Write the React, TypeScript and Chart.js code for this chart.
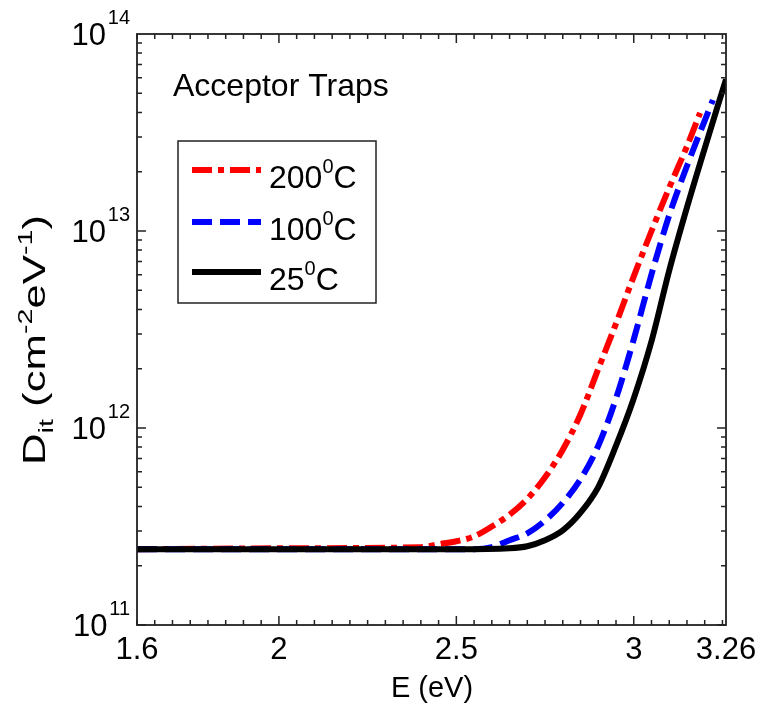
import React, { useEffect, useRef } from "react";
import { Chart, registerables } from "chart.js";

Chart.register(...registerables);

// ---- Data (log10 of Dit) ----
const energy25 = [1.6, 2.5, 2.65, 2.7, 2.75, 2.8, 2.85, 2.9, 2.95, 3.0, 3.05, 3.1, 3.15, 3.2, 3.26];
const logDit25 = [11.385, 11.385, 11.39, 11.4, 11.43, 11.48, 11.57, 11.7, 11.91, 12.15, 12.44, 12.8, 13.12, 13.42, 13.77];

const energy100 = [1.6, 2.55, 2.6, 2.65, 2.7, 2.75, 2.8, 2.85, 2.9, 2.95, 3.0, 3.05, 3.1, 3.15, 3.223];
const logDit100 = [11.385, 11.385, 11.395, 11.43, 11.465, 11.53, 11.62, 11.74, 11.91, 12.15, 12.45, 12.78, 13.08, 13.33, 13.665];

const energy200 = [1.6, 2.1, 2.4, 2.45, 2.5, 2.55, 2.6, 2.65, 2.7, 2.75, 2.8, 2.85, 2.9, 2.95, 3.0, 3.05, 3.1, 3.15, 3.187];
const logDit200 = [11.385, 11.39, 11.395, 11.41, 11.425, 11.45, 11.5, 11.56, 11.64, 11.75, 11.89, 12.07, 12.3, 12.53, 12.77, 13.0, 13.22, 13.43, 13.6];

const xTickLabels = ["1.6", "2", "2.5", "3", "3.26"];
const xTickValues = [1.6, 2, 2.5, 3, 3.26];
const yDecades = [11, 12, 13, 14];
const seriesLabels = ["200", "100", "25"];
const titleText = "Acceptor Traps";

const FONT = '"Liberation Sans", Arial, Helvetica, sans-serif';

type Part = { t: string; size: number; dy?: number };

function richWidth(ctx: CanvasRenderingContext2D, parts: Part[]) {
  let w = 0;
  for (const p of parts) {
    ctx.font = `${p.size}px ${FONT}`;
    w += ctx.measureText(p.t).width;
  }
  return w;
}

function drawRich(ctx: CanvasRenderingContext2D, parts: Part[], x: number, y: number, align: "left" | "center" | "right") {
  const w = richWidth(ctx, parts);
  let cx = align === "left" ? x : align === "center" ? x - w / 2 : x - w;
  ctx.textAlign = "left";
  ctx.textBaseline = "alphabetic";
  for (const p of parts) {
    ctx.font = `${p.size}px ${FONT}`;
    ctx.fillText(p.t, cx, y + (p.dy || 0));
    cx += ctx.measureText(p.t).width;
  }
}

const toPoints = (xs: number[], ls: number[]) => xs.map((x, i) => ({ x, y: Math.pow(10, ls[i]) }));

const decorPlugin = {
  id: "decor",
  afterDraw(chart: any) {
    const ctx: CanvasRenderingContext2D = chart.ctx;
    const { left, right, top, bottom } = chart.chartArea;
    const xs = chart.scales.x;
    const ys = chart.scales.y;
    ctx.save();
    ctx.fillStyle = "#000";
    ctx.strokeStyle = "#222";
    ctx.lineWidth = 1.8;
    // frame
    ctx.strokeRect(left, top, right - left, bottom - top);
    ctx.lineWidth = 1.5;
    // x ticks (inward, bottom and top)
    ctx.beginPath();
    for (let i = 0; i <= 33; i++) {
      const v = 1.6 + i * 0.05;
      if (v > 3.2601) break;
      const px = xs.getPixelForValue(v);
      const major = Math.abs(v * 2 - Math.round(v * 2)) < 1e-6;
      const len = major ? 9 : 5;
      ctx.moveTo(px, bottom);
      ctx.lineTo(px, bottom - len);
      ctx.moveTo(px, top);
      ctx.lineTo(px, top + len);
    }
    // y ticks (log)
    for (let e = 11; e < 14; e++) {
      for (let m = 1; m <= 9; m++) {
        const py = ys.getPixelForValue(m * Math.pow(10, e));
        const len = m === 1 ? 9 : 5;
        ctx.moveTo(left, py);
        ctx.lineTo(left + len, py);
        ctx.moveTo(right, py);
        ctx.lineTo(right - len, py);
      }
    }
    ctx.stroke();

    // x tick labels
    ctx.fillStyle = "#000";
    xTickValues.forEach((v, i) => {
      const px = xs.getPixelForValue(v);
      drawRich(ctx, [{ t: xTickLabels[i], size: 31 }], px, 659, "center");
    });
    // y tick labels
    yDecades.forEach((e) => {
      const py = ys.getPixelForValue(Math.pow(10, e));
      drawRich(ctx, [{ t: "10", size: 31, dy: 11 }, { t: " ", size: 6 }, { t: String(e), size: 20, dy: -10 }], 130, py, "right");
    });
    // x title
    drawRich(ctx, [{ t: "E (eV)", size: 29 }], 432, 697, "center");
    // y title
    const yTitle: Part[] = [
      { t: "D", size: 32 },
      { t: "it", size: 21, dy: 8 },
      { t: " (cm", size: 32 },
      { t: "-2", size: 21, dy: -13 },
      { t: "eV", size: 32 },
      { t: "-1", size: 21, dy: -13 },
      { t: ")", size: 32 },
    ];
    const tw = richWidth(ctx, yTitle);
    ctx.save();
    ctx.translate(45, 340);
    ctx.rotate(-Math.PI / 2);
    ctx.scale(250 / tw, 1);
    drawRich(ctx, yTitle, 0, 0, "center");
    ctx.restore();

    // annotation
    drawRich(ctx, [{ t: titleText, size: 32 }], 173, 96, "left");

    // legend box
    ctx.lineWidth = 1.5;
    ctx.strokeStyle = "#222";
    ctx.fillStyle = "#fff";
    ctx.fillRect(178, 141, 198, 162);
    ctx.strokeRect(178, 141, 198, 162);
    const ds = chart.data.datasets;
    const rows = [170, 222, 272];
    rows.forEach((ry, i) => {
      const d = ds[i];
      ctx.save();
      ctx.strokeStyle = d.borderColor;
      ctx.lineWidth = 6;
      ctx.setLineDash(d.borderDash || []);
      ctx.beginPath();
      ctx.moveTo(192, ry);
      ctx.lineTo(261, ry);
      ctx.stroke();
      ctx.restore();
      ctx.fillStyle = "#000";
      drawRich(
        ctx,
        [
          { t: seriesLabels[i], size: 32, dy: 18 },
          { t: "0", size: 20, dy: 3 },
          { t: "C", size: 32, dy: 18 },
        ],
        269,
        ry,
        "left"
      );
    });
    ctx.restore();
  },
};

export default function App() {
  const ref = useRef<HTMLCanvasElement | null>(null);
  useEffect(() => {
    if (!ref.current) return;
    const chart = new Chart(ref.current, {
      type: "line",
      data: {
        datasets: [
          {
            label: "200",
            data: toPoints(energy200, logDit200),
            borderColor: "#ff0000",
            borderWidth: 6,
            borderDash: [20, 6, 6, 6],
            pointRadius: 0,
            cubicInterpolationMode: "monotone",
            order: 3,
          },
          {
            label: "100",
            data: toPoints(energy100, logDit100),
            borderColor: "#0000ff",
            borderWidth: 6,
            borderDash: [20, 8],
            pointRadius: 0,
            cubicInterpolationMode: "monotone",
            order: 2,
          },
          {
            label: "25",
            data: toPoints(energy25, logDit25),
            borderColor: "#000000",
            borderWidth: 6,
            pointRadius: 0,
            cubicInterpolationMode: "monotone",
            order: 1,
          },
        ],
      },
      options: {
        responsive: false,
        animation: false,
        parsing: true,
        layout: { padding: { left: 137, right: 35, top: 34, bottom: 85 } },
        plugins: { legend: { display: false }, tooltip: { enabled: false } },
        scales: {
          x: { type: "linear", min: 1.6, max: 3.26, display: false },
          y: { type: "logarithmic", min: 1e11, max: 1e14, display: false },
        },
      },
      plugins: [decorPlugin],
    } as any);
    return () => chart.destroy();
  }, []);
  return (
    <div style={{ position: "absolute", left: 0, top: 0, width: 761, height: 710, background: "#fff" }}>
      <canvas ref={ref} width={761} height={710} style={{ width: 761, height: 710 }} />
    </div>
  );
}
